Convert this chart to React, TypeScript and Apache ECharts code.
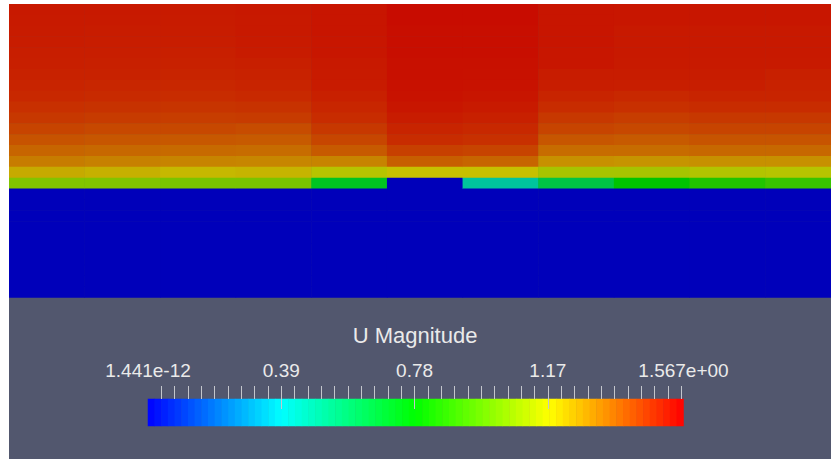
import React, { useEffect, useRef } from "react";
import * as echarts from "echarts";

// ---- data (U Magnitude per cell, top row first; 27 rows each) ----
const columns = ["c0", "c1", "c2", "c3", "c4", "c5", "c6", "c7", "c8", "c9", "c10"];
const rows = ["r0","r1","r2","r3","r4","r5","r6","r7","r8","r9","r10","r11","r12","r13","r14","r15","r16","r17","r18","r19","r20","r21","r22","r23","r24","r25","r26"];

const col0 = [1.518,1.515,1.513,1.511,1.508,1.505,1.500,1.495,1.487,1.471,1.456,1.431,1.402,1.366,1.319,1.227,1.039,0,0,0,0,0,0,0,0,0,0];
const col1 = [1.517,1.515,1.512,1.510,1.507,1.503,1.499,1.492,1.484,1.468,1.450,1.423,1.395,1.359,1.310,1.216,1.039,0,0,0,0,0,0,0,0,0,0];
const col2 = [1.516,1.514,1.511,1.509,1.505,1.501,1.496,1.490,1.480,1.463,1.446,1.423,1.392,1.355,1.304,1.199,1.023,0,0,0,0,0,0,0,0,0,0];
const col3 = [1.520,1.518,1.518,1.516,1.514,1.506,1.500,1.495,1.485,1.468,1.450,1.415,1.387,1.351,1.300,1.207,1.023,0,0,0,0,0,0,0,0,0,0];
const col4 = [1.526,1.526,1.525,1.524,1.523,1.518,1.516,1.513,1.503,1.492,1.479,1.456,1.428,1.387,1.304,1.144,0.719,0,0,0,0,0,0,0,0,0,0];
const col5 = [1.544,1.544,1.539,1.539,1.539,1.536,1.536,1.534,1.531,1.523,1.511,1.495,1.479,1.439,1.379,1.183,0,0,0,0,0,0,0,0,0,0,0];
const col6 = [1.544,1.544,1.539,1.539,1.539,1.536,1.534,1.531,1.526,1.515,1.503,1.487,1.471,1.431,1.366,1.183,0.472,0,0,0,0,0,0,0,0,0,0];
const col7 = [1.526,1.526,1.526,1.525,1.524,1.523,1.511,1.509,1.495,1.479,1.456,1.431,1.395,1.351,1.279,1.111,0.647,0,0,0,0,0,0,0,0,0,0];
const col8 = [1.523,1.523,1.518,1.518,1.517,1.516,1.511,1.508,1.487,1.471,1.446,1.423,1.387,1.351,1.271,1.111,0.784,0,0,0,0,0,0,0,0,0,0];
const col9 = [1.523,1.523,1.518,1.518,1.517,1.516,1.511,1.508,1.495,1.479,1.456,1.431,1.399,1.359,1.279,1.135,0.848,0,0,0,0,0,0,0,0,0,0];
const col10 = [1.523,1.523,1.518,1.518,1.517,1.515,1.503,1.500,1.495,1.479,1.456,1.431,1.399,1.359,1.279,1.144,0.895,0,0,0,0,0,0,0,0,0,0];
const columnValues = [col0, col1, col2, col3, col4, col5, col6, col7, col8, col9, col10];

const rangeMin = 0;
const rangeMax = 1.567;
const colorbarTitle = "U Magnitude";
const colorbarLabelValues = [0, 0.39, 0.78, 1.17, 1.567];
const colorbarLabelTexts = ["1.441e-12", "0.39", "0.78", "1.17", "1.567e+00"];
const colorbarMinorStep = 0.039;
const colorbarMinorCount = 40;
const colorbarMajorValues = [0.39, 0.78, 1.17];
const colorbarBandCount = 80;

export default function App() {
  const ref = useRef<HTMLDivElement>(null);
  useEffect(() => {
    if (!ref.current) return;
    const chart = echarts.init(ref.current, undefined, { renderer: "svg" });

    const heatData: number[][] = [];
    columnValues.forEach((col, x) => {
      col.forEach((v, y) => heatData.push([x, y, v]));
    });
    const minorTicks: number[] = [];
    for (let i = 1; i <= colorbarMinorCount; i++) {
      minorTicks.push(+(colorbarMinorStep * i).toFixed(3));
    }
    // colour-bar lookup table: one band per table entry, at its centre value
    const bandCats: string[] = [];
    const bandData: number[][] = [];
    for (let i = 0; i < colorbarBandCount; i++) {
      bandCats.push("b" + i);
      bandData.push([i, 0, ((i + 0.5) / colorbarBandCount) * (rangeMax - rangeMin) + rangeMin]);
    }

    const font = "Liberation Sans";
    chart.setOption({
      animation: false,
      backgroundColor: "#52576e",
      grid: [
        { left: 0, top: 0, width: 832, height: 293.5, outerBoundsMode: "none", containLabel: false },
        { left: 139, top: 395, width: 535.5, height: 27, outerBoundsMode: "none" },
      ],
      xAxis: [
        { type: "category", data: columns, gridIndex: 0, show: false },
        {
          type: "value",
          gridIndex: 1,
          min: rangeMin,
          max: rangeMax,
          position: "top",
          z: 20,
          axisLine: { show: false },
          splitLine: { show: false },
          axisTick: {
            show: true,
            length: 13,
            customValues: minorTicks,
            lineStyle: { color: "#c4c6cc", width: 1 },
          },
          axisLabel: {
            show: true,
            customValues: colorbarLabelValues,
            margin: 19,
            color: "#eaeaea",
            fontSize: 19,
            fontFamily: font,
            formatter: (val: number) => {
              let best = 0;
              colorbarLabelValues.forEach((lv, i) => {
                if (Math.abs(lv - val) < Math.abs(colorbarLabelValues[best] - val)) best = i;
              });
              return colorbarLabelTexts[best];
            },
          },
        },
        {
          type: "value",
          gridIndex: 1,
          min: rangeMin,
          max: rangeMax,
          position: "top",
          z: 20,
          axisLine: { show: false },
          splitLine: { show: false },
          axisLabel: { show: false },
          axisTick: {
            show: true,
            inside: true,
            length: 10,
            customValues: colorbarMajorValues,
            lineStyle: { color: "#c4c6cc", width: 1 },
          },
        },
        { type: "category", data: bandCats, gridIndex: 1, show: false },
      ],
      yAxis: [
        { type: "category", data: rows, inverse: true, gridIndex: 0, show: false },
        { type: "category", data: [""], gridIndex: 1, show: false },
      ],
      visualMap: [
        {
          type: "continuous",
          show: false,
          min: rangeMin,
          max: rangeMax,
          seriesIndex: 0,
          dimension: 2,
          inRange: { color: ["#0000ba", "#00c4c6", "#00c400", "#c6c400", "#c80000"] },
        },
        {
          type: "continuous",
          show: false,
          min: rangeMin,
          max: rangeMax,
          seriesIndex: 1,
          dimension: 2,
          inRange: { color: ["#0000ff", "#00ffff", "#00ff00", "#ffff00", "#ff0000"] },
        },
      ],
      graphic: [
        {
          type: "text",
          x: 406,
          y: 331,
          style: {
            text: colorbarTitle,
            textAlign: "center",
            textVerticalAlign: "middle",
            fill: "#eaeaea",
            font: `22px "${font}"`,
          },
        },
      ],
      series: [
        {
          type: "heatmap",
          xAxisIndex: 0,
          yAxisIndex: 0,
          data: heatData,
          itemStyle: { borderWidth: 0 },
          emphasis: { disabled: true },
        },
        {
          type: "heatmap",
          xAxisIndex: 3,
          yAxisIndex: 1,
          data: bandData,
          itemStyle: { borderWidth: 0 },
          emphasis: { disabled: true },
        },
      ],
    });
    return () => chart.dispose();
  }, []);
  return (
    <div
      ref={ref}
      style={{ position: "absolute", left: 9, top: 4, width: 822, height: 455 }}
    />
  );
}
